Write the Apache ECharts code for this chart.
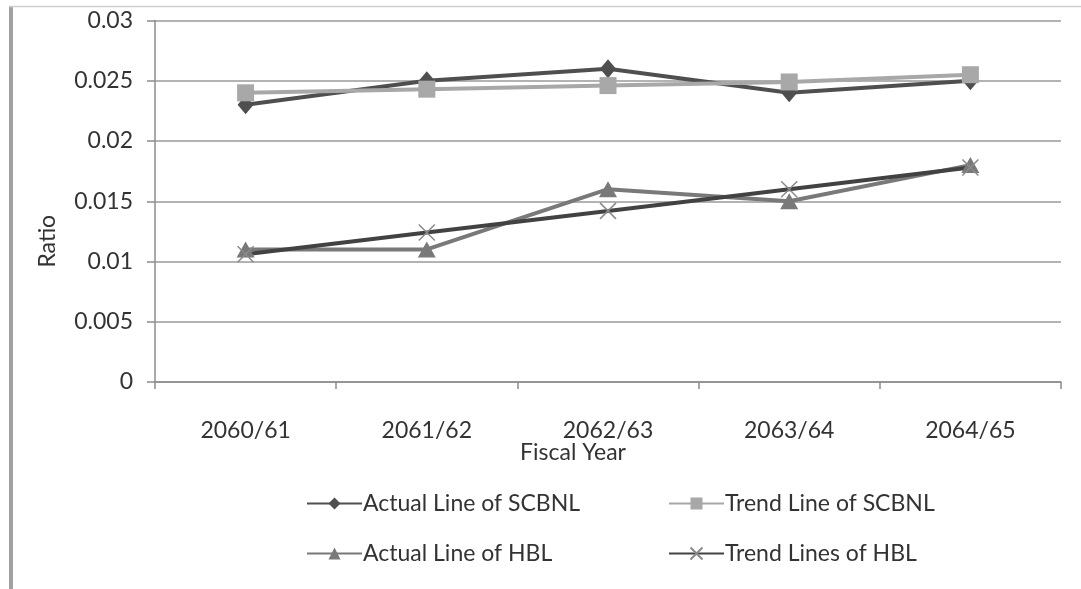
<!DOCTYPE html>
<html>
<head>
<meta charset="utf-8">
<script src="https://cdn.jsdelivr.net/npm/echarts@6/dist/echarts.min.js"></script>
<style>
  html, body { margin: 0; padding: 0; background: #ffffff; }
  #chart { width: 1081px; height: 589px; }
</style>
</head>
<body>
<div id="chart"></div>
<script>
// Fiscal years on the category axis
const fiscalYears = ['2060/61', '2061/62', '2062/63', '2063/64', '2064/65'];

// Ratio series
const actualSCBNL = [0.023, 0.025, 0.026, 0.024, 0.025];
const trendSCBNL  = [0.0240, 0.0243, 0.0246, 0.0249, 0.0255];
const actualHBL   = [0.011, 0.011, 0.016, 0.015, 0.018];
const trendHBL    = [0.0106, 0.0124, 0.0142, 0.0160, 0.0178];

const seriesNames = [
  'Actual Line of SCBNL',
  'Trend Line of SCBNL',
  'Actual Line of HBL',
  'Trend Lines of HBL'
];

const FONT = 'Lato, "Open Sans", sans-serif';
const TEXT_COLOR = '#333333';
const CROSS = 'path://M0,0L10,10M10,0L0,10';

const chart = echarts.init(document.getElementById('chart'), null, { renderer: 'canvas' });

function lineSeries(name, data, color, symbol, symbolSize, extra) {
  return Object.assign({
    name: name,
    type: 'line',
    data: data,
    symbol: symbol,
    symbolSize: symbolSize,
    showAllSymbol: true,
    lineStyle: { color: color, width: 4 },
    itemStyle: { color: color, borderColor: color, borderWidth: 0 },
    emphasis: { disabled: true },
    animation: false
  }, extra || {});
}

function legendAt(name, left, top) {
  return {
    data: [name],
    left: left,
    top: top,
    itemWidth: 55,
    itemHeight: 15,
    itemGap: 4,
    textStyle: { fontFamily: FONT, fontSize: 23, color: TEXT_COLOR, padding: [0, 0, 0, -4] },
    selectedMode: false
  };
}

chart.setOption({
  backgroundColor: '#ffffff',
  animation: false,
  graphic: [
    // outer frame: left bar and top rule
    { type: 'rect', shape: { x: 9, y: 6, width: 4, height: 583 }, style: { fill: '#a0a0a0' }, z: 0 },
    { type: 'line', shape: { x1: 9, y1: 6.5, x2: 1081, y2: 6.5 }, style: { stroke: '#d0d0d0', lineWidth: 1.5 }, z: 0 },
    // category axis title
    {
      type: 'text', x: 573, y: 453,
      style: {
        text: 'Fiscal Year', fontFamily: FONT, fontSize: 23, fill: TEXT_COLOR,
        textAlign: 'center', textVerticalAlign: 'middle'
      }
    }
  ],
  grid: { left: 155, right: 20, top: 20.5, bottom: 207, containLabel: false },
  xAxis: {
    type: 'category',
    data: fiscalYears,
    boundaryGap: true,
    axisLine: { lineStyle: { color: '#8c8c8c', width: 1.5 } },
    axisTick: { show: true, length: 7, alignWithLabel: false, lineStyle: { color: '#8c8c8c', width: 1.5 } },
    axisLabel: { fontFamily: FONT, fontSize: 23, color: TEXT_COLOR, margin: 37 },
    splitLine: { show: false }
  },
  yAxis: {
    type: 'value',
    min: 0,
    max: 0.03,
    interval: 0.005,
    name: 'Ratio',
    nameLocation: 'middle',
    nameGap: 96,
    nameRotate: 90,
    nameTextStyle: { fontFamily: FONT, fontSize: 23, color: TEXT_COLOR, padding: [0, 80, 0, 0] },
    axisLine: { show: true, lineStyle: { color: '#8c8c8c', width: 1.5 } },
    axisTick: { show: true, length: 8, lineStyle: { color: '#8c8c8c', width: 1.5 } },
    axisLabel: {
      fontFamily: FONT, fontSize: 23, color: TEXT_COLOR, margin: 22,
      formatter: function (v) { return v === 0 ? '0' : String(+v.toFixed(3)); }
    },
    splitLine: { show: true, lineStyle: { color: '#9a9a9a', width: 1.5 } }
  },
  legend: [
    legendAt(seriesNames[0], 301, 487),
    legendAt(seriesNames[1], 663, 487),
    legendAt(seriesNames[2], 301, 537),
    legendAt(seriesNames[3], 663, 537)
  ],
  series: [
    lineSeries(seriesNames[0], actualSCBNL, '#4f4f4f', 'diamond', [16, 19]),
    lineSeries(seriesNames[1], trendSCBNL, '#a8a8a8', 'rect', 17),
    lineSeries(seriesNames[2], actualHBL, '#797979', 'triangle', [18, 16]),
    lineSeries(seriesNames[3], trendHBL, '#424242', CROSS, 16, {
      itemStyle: { color: 'none', borderColor: '#8a8a8a', borderWidth: 1.5 }
    })
  ]
});
</script>
</body>
</html>
